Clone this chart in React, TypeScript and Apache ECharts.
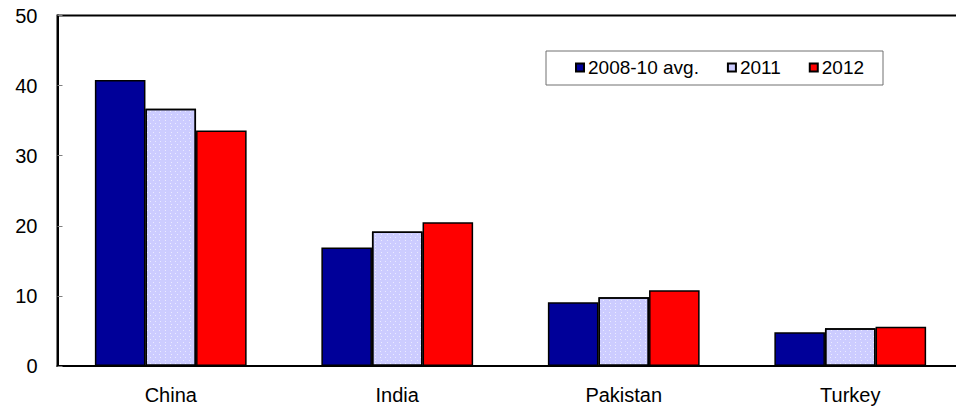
import React, { useEffect, useRef } from "react";
import * as echarts from "echarts";

const categories = ["China", "India", "Pakistan", "Turkey"];
const seriesNames = ["2008-10 avg.", "2011", "2012"];
const avg0810 = [40.8, 16.9, 9.1, 4.8];
const y2011 = [36.7, 19.2, 9.8, 5.4];
const y2012 = [33.6, 20.5, 10.8, 5.6];

const FONT = "'Liberation Sans', Arial, sans-serif";

export default function App() {
  const ref = useRef<HTMLDivElement>(null);
  useEffect(() => {
    if (!ref.current) return;
    const chart = echarts.init(ref.current, undefined, { renderer: "svg" });
    const border = { borderColor: "#000", borderWidth: 1.5 };
    chart.setOption({
      animation: false,
      backgroundColor: "#fff",
      textStyle: { fontFamily: FONT },
      grid: {
        left: 57.5,
        top: 15.5,
        width: 906,
        height: 350.5,
        show: true,
        borderColor: "#000",
        borderWidth: 2,
        containLabel: false,
      },
      legend: {
        left: 575,
        top: 58,
        padding: 0,
        icon: "rect",
        itemWidth: 8,
        itemHeight: 8,
        itemGap: 28,
        textStyle: { fontSize: 19, color: "#000", fontFamily: FONT, padding: [0, 0, 0, -1] },
        data: [
          { name: seriesNames[0] },
          { name: seriesNames[1], itemStyle: { color: "#ccccff", decal: "none" } },
          { name: seriesNames[2] },
        ],
      },
      graphic: [
        {
          type: "rect",
          shape: { x: 546, y: 51, width: 337, height: 34 },
          style: { fill: "none", stroke: "#707070", lineWidth: 1 },
          z: 5,
        },
      ],
      xAxis: {
        type: "category",
        data: categories,
        axisLine: { lineStyle: { color: "#000", width: 2 } },
        axisTick: { inside: true, length: 6, lineStyle: { color: "#808080", width: 1 } },
        axisLabel: { fontSize: 20, color: "#000", margin: 19, fontFamily: FONT },
      },
      yAxis: {
        type: "value",
        min: 0,
        max: 50,
        interval: 10,
        splitLine: { show: false },
        axisLine: { show: true, lineStyle: { color: "#000", width: 2 } },
        axisTick: { show: true, inside: true, length: 5, lineStyle: { color: "#808080", width: 1 } },
        axisLabel: { fontSize: 20, color: "#000", margin: 20, fontFamily: FONT },
      },
      series: [
        {
          name: seriesNames[0],
          type: "bar",
          data: avg0810,
          barGap: "0%",
          barCategoryGap: "33%",
          itemStyle: { color: "#000099", ...border },
        },
        {
          name: seriesNames[1],
          type: "bar",
          data: y2011,
          barGap: "0%",
          barCategoryGap: "33%",
          itemStyle: {
            color: "#ccccff",
            ...border,
            decal: {
              symbol: "rect",
              symbolSize: 1,
              color: "rgba(255,255,255,0.6)",
              dashArrayX: [[1, 4], [0, 2.5, 1, 1.5]],
              dashArrayY: [1, 1.5],
            },
          },
        },
        {
          name: seriesNames[2],
          type: "bar",
          data: y2012,
          barGap: "0%",
          barCategoryGap: "33%",
          itemStyle: { color: "#ff0000", ...border },
        },
      ],
    });
    return () => chart.dispose();
  }, []);
  return (
    <div
      style={{
        position: "fixed",
        left: 0,
        top: 0,
        width: 956,
        height: 411,
        overflow: "hidden",
        background: "#fff",
      }}
    >
      <div ref={ref} style={{ width: 980, height: 411 }} />
    </div>
  );
}
